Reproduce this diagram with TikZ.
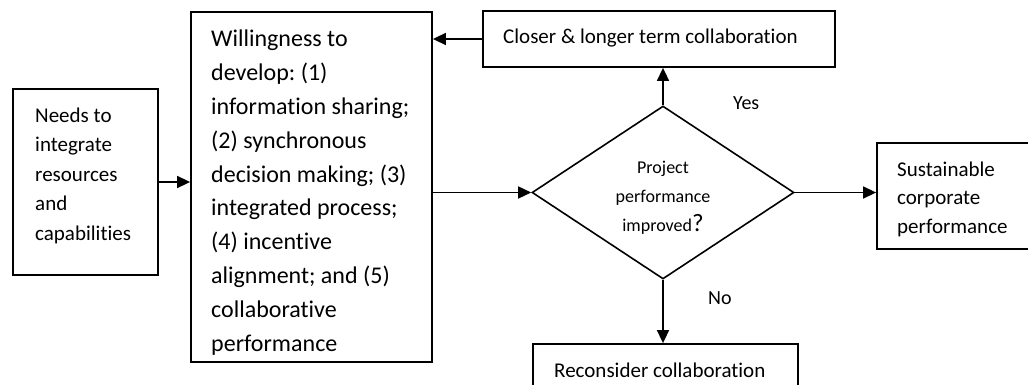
\documentclass[tikz,border=0pt]{standalone}
\usepackage{fontspec}
\setmainfont[Ligatures={NoCommon}]{Carlito}
\frenchspacing
\usetikzlibrary{arrows.meta,shapes.geometric}
\tikzset{
  boxnode/.style={draw, line width=1.8pt, rectangle, inner sep=0pt},
  txt/.style={inner sep=0pt, align=left, anchor=base west},
  arr/.style={line width=1.6pt, -{Triangle[length=13pt,width=12pt]}},
}
\begin{document}
\begin{tikzpicture}[x=1pt,y=-1pt]
\useasboundingbox (0,0) rectangle (1028,385);
\clip (0,0) rectangle (1028,385);
% boxes
\node[boxnode, minimum width=145pt, minimum height=186pt] (needs) at (85.5,182) {};
\node[boxnode, minimum width=241pt, minimum height=350pt] (big) at (311.5,187) {};
\node[boxnode, minimum width=352pt, minimum height=56pt] (closer) at (659,39) {};
\node[draw, line width=1.6pt, diamond, inner sep=0pt, minimum width=262pt, minimum height=173pt] (dia) at (663,192.5) {};
\node[boxnode, minimum width=168pt, minimum height=106pt] (sust) at (961,196) {};
\node[boxnode, minimum width=265pt, minimum height=60pt] (recon) at (665.5,374) {};
% texts (anchor = baseline of the last line)
\node[txt, font=\fontsize{21}{29.5}\selectfont] (needst) at (35,240) {Needs to\\integrate\\resources\\and\\capabilities};
\node[txt, font=\fontsize{24}{33.8}\selectfont] (bigt) at (211,351) {Willingness to\\develop: (1)\\information sharing;\\(2) synchronous\\decision making; (3)\\integrated process;\\(4) incentive\\alignment; and (5)\\collaborative\\performance};
\node[txt, font=\fontsize{21}{28}\selectfont] (closert) at (503,44) {Closer \& longer term collaboration};
\node[inner sep=0pt, align=center, anchor=base, font=\fontsize{18}{29}\selectfont] (diat) at (663,231) {Project\\performance\\improved{\fontsize{25}{29}\selectfont ?}};
\node[txt, font=\fontsize{21}{28.5}\selectfont] (sustt) at (897,233) {Sustainable\\corporate\\performance};
\node[txt, font=\fontsize{21}{28}\selectfont] (recont) at (554,377) {Reconsider collaboration};
\node[txt, font=\fontsize{20}{24}\selectfont] (yes) at (733,110) {Yes};
\node[txt, font=\fontsize{20}{24}\selectfont] (no) at (708,304) {No};
% connectors
\draw[arr] (needs.east) -- (needs.east -| big.west);
\draw[arr] (big.east |- dia.west) -- (dia.west);
\draw[arr] (dia.north) -- (dia.north |- closer.south);
\draw[arr] (closer.west) -- (closer.west -| big.east);
\draw[arr] (dia.east) -- (dia.east -| sust.west);
\draw[arr] (dia.south) -- (dia.south |- recon.north);
\end{tikzpicture}
\end{document}
